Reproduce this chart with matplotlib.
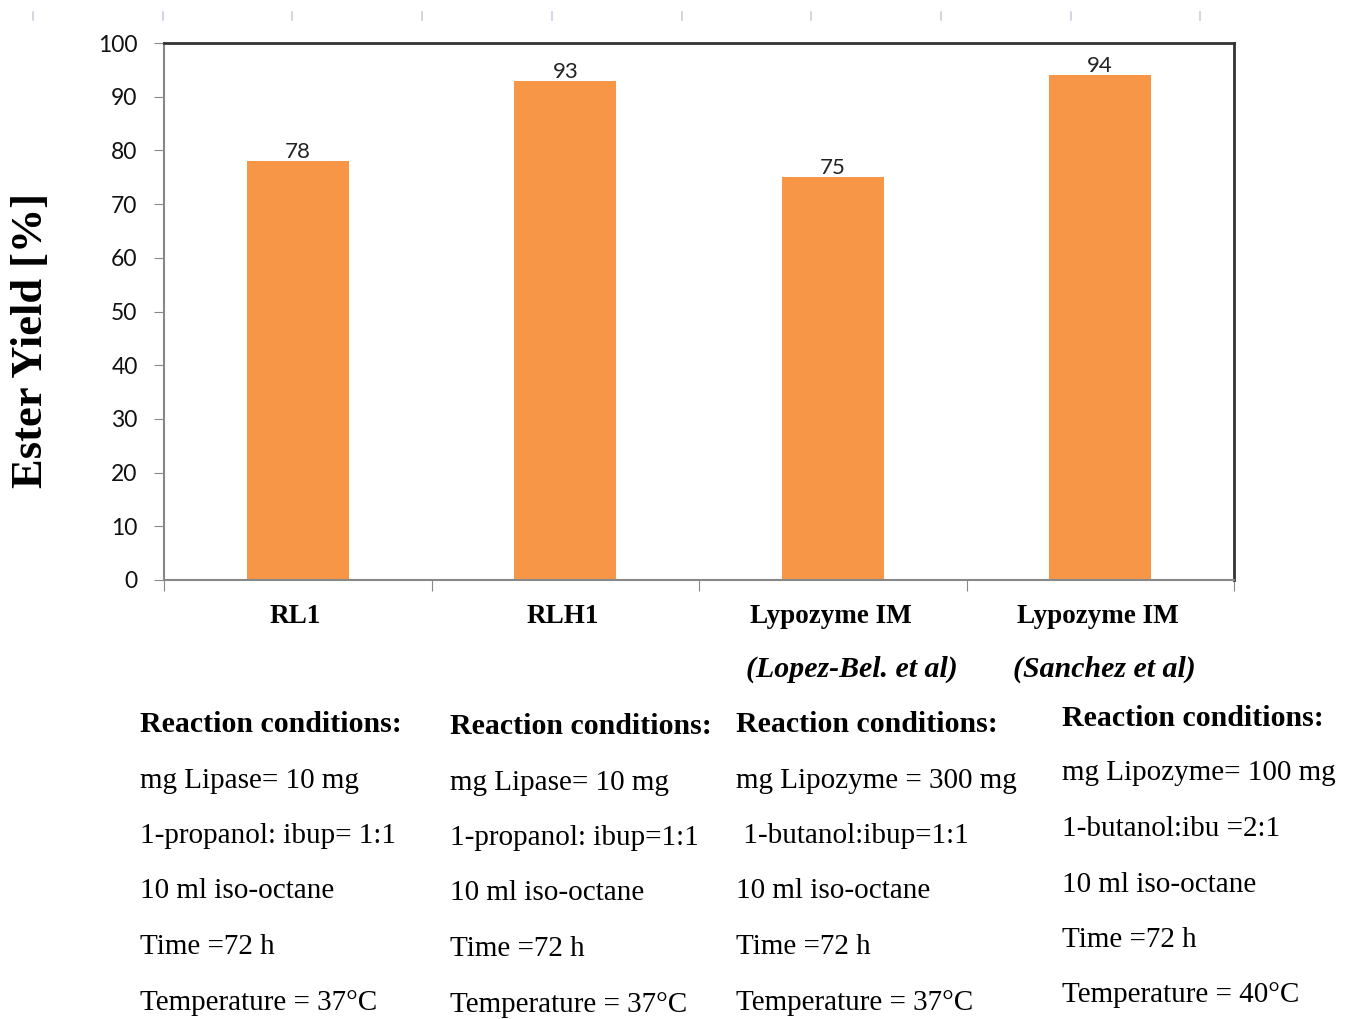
# Ester yield for different lipases (bar chart + reaction conditions)
import matplotlib
matplotlib.use("Agg")
import matplotlib.pyplot as plt
from matplotlib.lines import Line2D

categories = ["RL1", "RLH1", "Lypozyme IM", "Lypozyme IM"]
sublabels = ["", "", "(Lopez-Bel. et al)", "(Sanchez et al)"]
yields = [78, 93, 75, 94]

conditions = [
    ["Reaction conditions:", "mg Lipase= 10 mg", "1-propanol: ibup= 1:1",
     "10 ml iso-octane", "Time =72 h", "Temperature = 37°C"],
    ["Reaction conditions:", "mg Lipase= 10 mg", "1-propanol: ibup=1:1",
     "10 ml iso-octane", "Time =72 h", "Temperature = 37°C"],
    ["Reaction conditions:", "mg Lipozyme = 300 mg", " 1-butanol:ibup=1:1",
     "10 ml iso-octane", "Time =72 h", "Temperature = 37°C"],
    ["Reaction conditions:", "mg Lipozyme= 100 mg", "1-butanol:ibu =2:1",
     "10 ml iso-octane", "Time =72 h", "Temperature = 40°C"],
]

orange = "#f79646"
serif = "Liberation Serif"
sans = "Lato"

W, H = 1351, 1019
fig = plt.figure(figsize=(W / 100, H / 100), dpi=100)
ax = fig.add_axes([164 / W, 1 - 580 / H, (1234 - 164) / W, (580 - 43) / H])

x = range(len(categories))
bars = ax.bar(x, yields, width=0.38, color=orange, zorder=2)
for b, v in zip(bars, yields):
    ax.text(b.get_x() + b.get_width() / 2, v - 0.2, str(v), ha="center", va="bottom",
            fontsize=16, family=sans, color="#222222")

ax.set_xlim(-0.5, 3.5)
ax.set_ylim(0, 100)
ax.set_yticks(range(0, 101, 10))
ax.tick_params(axis="y", direction="out", length=7, color="#888888", labelsize=16.5,
               pad=12, labelcolor="#111111")
for t in ax.get_yticklabels():
    t.set_family(sans)

ax.set_xticks([-0.5, 0.5, 1.5, 2.5, 3.5])
ax.set_xticklabels([])
ax.tick_params(axis="x", direction="out", length=8, color="#888888")

for sp in ["left", "bottom"]:
    ax.spines[sp].set_color("#888888")
    ax.spines[sp].set_linewidth(1.5)
for sp in ["top", "right"]:
    ax.spines[sp].set_color("#333333")
    ax.spines[sp].set_linewidth(2)

# category labels
tr = ax.get_xaxis_transform()
for i, (c, s) in enumerate(zip(categories, sublabels)):
    if s:
        ax.text(i - 0.31, -0.045, c, transform=tr, ha="left", va="top",
                fontsize=19.5, fontweight="bold", family=serif)
        ax.text(i - 0.325, -0.14, s, transform=tr, ha="left", va="top",
                fontsize=21.5, fontweight="bold", style="italic", family=serif)
    else:
        ax.text(i - 0.01, -0.045, c, transform=tr, ha="center", va="top",
                fontsize=19.5, fontweight="bold", family=serif)

fig.text(31 / W, 1 - 340 / H, "Ester Yield [%]", rotation=90, ha="center", va="center",
         fontsize=32, fontweight="bold", family=serif)

# reaction condition blocks
col_x = [140, 450, 736, 1062]
col_y0 = [725, 727, 725, 718]
for cx, cy, lines in zip(col_x, col_y0, conditions):
    for k, line in enumerate(lines):
        fig.text(cx / W, 1 - (cy + k * 55.5) / H, line, ha="left", va="center",
                 fontsize=21.5 if k == 0 else 21, family=serif,
                 fontweight="bold" if k == 0 else "normal")

# faint ruler marks along the top edge
for k in range(10):
    xp = 33 + k * 129.7
    fig.add_artist(Line2D([xp / W, xp / W], [1 - 12 / H, 1 - 20 / H],
                          transform=fig.transFigure, color="#c8d0e0", lw=1.2))

fig.savefig("out.png", dpi=100)
